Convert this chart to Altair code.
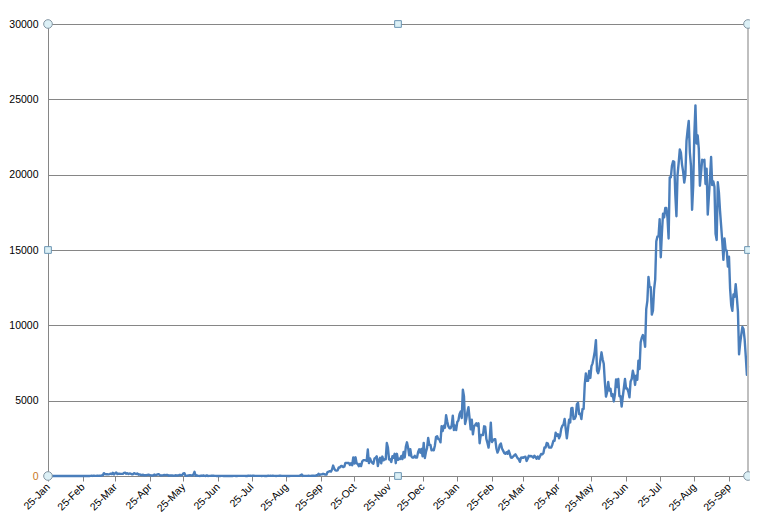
import altair as alt
import pandas as pd

# Daily values, one list per month (first list starts 25 Jan 2020)
jan20 = [3, 1, 0, 0, 3, 0, 1]
feb20 = [0, 0, 0, 2, 2, 2, 1, 1, 2, 0, 0, 0, 0, 0, 1, 0, 0, 0, 0, 0, 0, 0, 0, 0, 0, 0, 1, 1, 0]
mar20 = [4, 0, 7, 14, 5, 28, 10, 6, 18, 12, 20, 9, 39, 41, 190, 125, 120, 117, 110, 130, 153, 123, 212, 106, 172, 235, 130, 159, 150, 140, 142]
apr20 = [142, 208, 217, 150, 179, 131, 170, 156, 109, 118, 184, 153, 134, 170, 85, 110, 69, 54, 84, 36, 57, 50, 71, 88, 51, 38, 40, 31, 94, 57]
may20 = [69, 105, 122, 55, 30, 45, 39, 68, 54, 67, 70, 16, 37, 40, 36, 17, 22, 47, 37, 31, 50, 78, 48, 60, 172, 187, 15, 10, 30, 38, 57]
jun20 = [38, 20, 93, 277, 19, 37, 19, 7, 2, 31, 7, 33, 8, 4, 41, 4, 8, 10, 13, 14, 21, 6, 7, 2, 8, 4, 3, 6, 9, 1]
jul20 = [3, 4, 3, 2, 3, 2, 5, 3, 8, 5, 1, 2, 7, 6, 5, 6, 10, 11, 11, 3, 4, 15, 12, 23, 7, 18, 20, 7, 8, 10, 5]
aug20 = [10, 5, 4, 11, 8, 3, 6, 4, 22, 10, 14, 8, 25, 6, 6, 3, 8, 10, 21, 15, 9, 7, 8, 5, 6, 4, 7, 2, 5, 7, 6]
sep20 = [6, 6, 5, 7, 5, 6, 62, 100, 5, 10, 8, 5, 9, 15, 8, 11, 20, 16, 16, 7, 57, 39, 147, 82, 108, 111, 150, 115, 101, 89]
oct20 = [260, 287, 317, 293, 432, 691, 489, 374, 354, 373, 563, 561, 660, 660, 589, 629, 869, 871, 865, 862, 732, 847, 710, 1228, 823, 1240, 835, 801, 649, 799, 659]
nov20 = [957, 1054, 1054, 1032, 1009, 1755, 852, 1168, 972, 869, 822, 1162, 1208, 1304, 659, 1041, 1210, 841, 1290, 1041, 1109, 1106, 2188, 1884, 1096, 1109, 935, 1315, 1212, 1472]
dec20 = [851, 1472, 1075, 1141, 1123, 1335, 1123, 1600, 1229, 1937, 2234, 1895, 1371, 1772, 1295, 1220, 1229, 1340, 1219, 1220, 1600, 1772, 1550, 1800, 1312, 2200, 1196, 1594, 1870, 2525, 2068]
jan21 = [2068, 1704, 1741, 1704, 2027, 2593, 2643, 2451, 2433, 2232, 3309, 2985, 3337, 3211, 4029, 3631, 3306, 3170, 3170, 3346, 4008, 3048, 3346, 3048, 3585, 3680, 4094, 4275, 3848, 5728, 5298]
feb21 = [3455, 3770, 4214, 4571, 3847, 3100, 3731, 2764, 3288, 3384, 3499, 3318, 3499, 2176, 2720, 2720, 2712, 3297, 3269, 2461, 2192, 1884, 2468, 3545, 2253, 2364, 2437, 2437]
mar21 = [1828, 1555, 1745, 2063, 2154, 1828, 1683, 1529, 1470, 1575, 1477, 1680, 1468, 1217, 1208, 1290, 1371, 1439, 1313, 1180, 1116, 941, 1223, 1229, 1208, 1271, 1275, 1000, 1144, 1341, 1313]
apr21 = [1329, 1290, 1220, 1349, 1260, 1139, 1291, 1139, 1313, 1463, 1437, 1510, 1889, 1889, 2195, 2148, 1889, 1881, 1889, 2078, 2341, 2340, 2875, 2668, 2776, 2506, 2683, 3142, 3332, 3418]
may21 = [3788, 3120, 2500, 3120, 3744, 3551, 4498, 4519, 3780, 3807, 3973, 4765, 4855, 4113, 4140, 3780, 4446, 4446, 6075, 6806, 6320, 6320, 6976, 6509, 7289, 7478, 7857, 8290, 9020, 6999, 6824]
jun21 = [7105, 7703, 8209, 7748, 7452, 6241, 5271, 5566, 6239, 5671, 5793, 5304, 5419, 4949, 5419, 6406, 5911, 6440, 5293, 5293, 4611, 5244, 5841, 6437, 5803, 5803, 5586, 5218, 6276, 6437]
jul21 = [6982, 6658, 6045, 6658, 6387, 7654, 7097, 8868, 9180, 9353, 9105, 8574, 11079, 11618, 13215, 12541, 12528, 10710, 10972, 12366, 13034, 15573, 15902, 15902, 17045, 14516, 16117, 17405, 17170, 17786, 17786]
aug21 = [17150, 15764, 19819, 19819, 20596, 20889, 20848, 18688, 17236, 19991, 20780, 21668, 21468, 20670, 20199, 19469, 19991, 22242, 22948, 23564, 21486, 20579, 17672, 19268, 22642, 24599, 22070, 22597, 21735, 19268, 20100]
sep21 = [20988, 20900, 20988, 19378, 20396, 17352, 18547, 19733, 21176, 19307, 19550, 19198, 16073, 15669, 19495, 18815, 17577, 16586, 15549, 14345, 15759, 14990, 14954, 13899, 14554, 12434, 11332, 10959, 12051, 11889]
oct21 = [12735, 11889, 10915, 8075, 8817, 9380, 9891, 9751, 9066, 7950, 6709, 7276]

month_starts = ["2020-01-25", "2020-02-01", "2020-03-01", "2020-04-01", "2020-05-01", "2020-06-01",
                "2020-07-01", "2020-08-01", "2020-09-01", "2020-10-01", "2020-11-01", "2020-12-01",
                "2021-01-01", "2021-02-01", "2021-03-01", "2021-04-01", "2021-05-01", "2021-06-01",
                "2021-07-01", "2021-08-01", "2021-09-01", "2021-10-01"]
month_values = [jan20, feb20, mar20, apr20, may20, jun20, jul20, aug20, sep20, oct20, nov20, dec20,
                jan21, feb21, mar21, apr21, may21, jun21, jul21, aug21, sep21, oct21]

dates, vals = [], []
for start, lst in zip(month_starts, month_values):
    dr = pd.date_range(start, periods=len(lst), freq="D")
    dates += [d.strftime("%Y-%m-%d") for d in dr]
    vals += lst
df = pd.DataFrame({"date": dates, "cases": vals})

start_date = "2020-01-25"
mid_date = "2020-12-03"
end_date = "2021-10-12"
y_ticks = [0, 5000, 10000, 15000, 20000, 25000, 30000]
tick_months = [(2020, m) for m in range(1, 13)] + [(2021, m) for m in range(1, 10)]

circle_x = [start_date, start_date, end_date, end_date]
circle_y = [0, 30000, 0, 30000]
square_x = [mid_date, mid_date, start_date, end_date]
square_y = [0, 30000, 15000, 15000]

x_scale = alt.Scale(type="utc",
                    domain=[alt.DateTime(year=2020, month=1, date=25, utc=True),
                            alt.DateTime(year=2021, month=10, date=12, utc=True)],
                    nice=False)
y_scale = alt.Scale(domain=[0, 30000], nice=False)

x_axis = alt.Axis(values=[alt.DateTime(year=y, month=m, date=25, utc=True) for y, m in tick_months],
                  labelExpr="utcFormat(datum.value, '%d-%b')", labelAngle=-45, labelAlign="right",
                  labelBaseline="middle", labelOverlap=False, labelFlush=False,
                  grid=False, domainColor="#868686", tickColor="#868686", tickSize=5,
                  labelPadding=4, labelFont="Liberation Sans", labelFontSize=10.5,
                  labelColor="black", title=None)
y_axis = alt.Axis(values=y_ticks, format="d", grid=True, gridColor="#868686", gridWidth=1,
                  domainColor="#868686", ticks=False, tickSize=0, labelPadding=10,
                  labelFont="Liberation Sans", labelFontSize=10.5,
                  labelColor={"condition": {"test": "datum.value === 0", "value": "#c8781e"}, "value": "black"},
                  title=None)

line = alt.Chart(df).mark_line(color="#4a7ebb", strokeWidth=2.4, strokeJoin="round").encode(
    x=alt.X("date:T", scale=x_scale, axis=x_axis),
    y=alt.Y("cases:Q", scale=y_scale, axis=y_axis),
)

frame_df = pd.DataFrame({"date": [end_date], "cases": [0], "top": [30000]})
frame = alt.Chart(frame_df).mark_rule(color="#bfbfbf", strokeWidth=2).encode(
    x=alt.X("date:T", scale=x_scale, axis=x_axis),
    y=alt.Y("cases:Q", scale=y_scale, axis=y_axis), y2="top:Q")

circ = alt.Chart(pd.DataFrame({"date": circle_x, "cases": circle_y})).mark_point(
    shape="circle", filled=True, size=75, fill="#dcf0f6", stroke="#8496a3", strokeWidth=1, opacity=1
).encode(x=alt.X("date:T", scale=x_scale, axis=x_axis),
         y=alt.Y("cases:Q", scale=y_scale, axis=y_axis))

sq = alt.Chart(pd.DataFrame({"date": square_x, "cases": square_y})).mark_point(
    shape="square", filled=True, size=45, fill="#dcf0f6", stroke="#6b94b3", strokeWidth=1, opacity=1
).encode(x=alt.X("date:T", scale=x_scale, axis=x_axis),
         y=alt.Y("cases:Q", scale=y_scale, axis=y_axis))

chart = alt.layer(line, frame, circ, sq).properties(
    width=700, height=452,
    padding={"left": 40, "top": 16, "right": 2, "bottom": 40},
    autosize="none",
).configure_view(strokeWidth=0).configure(background="white")

chart.save("out.html", embed_options={"renderer": "svg", "actions": False})
